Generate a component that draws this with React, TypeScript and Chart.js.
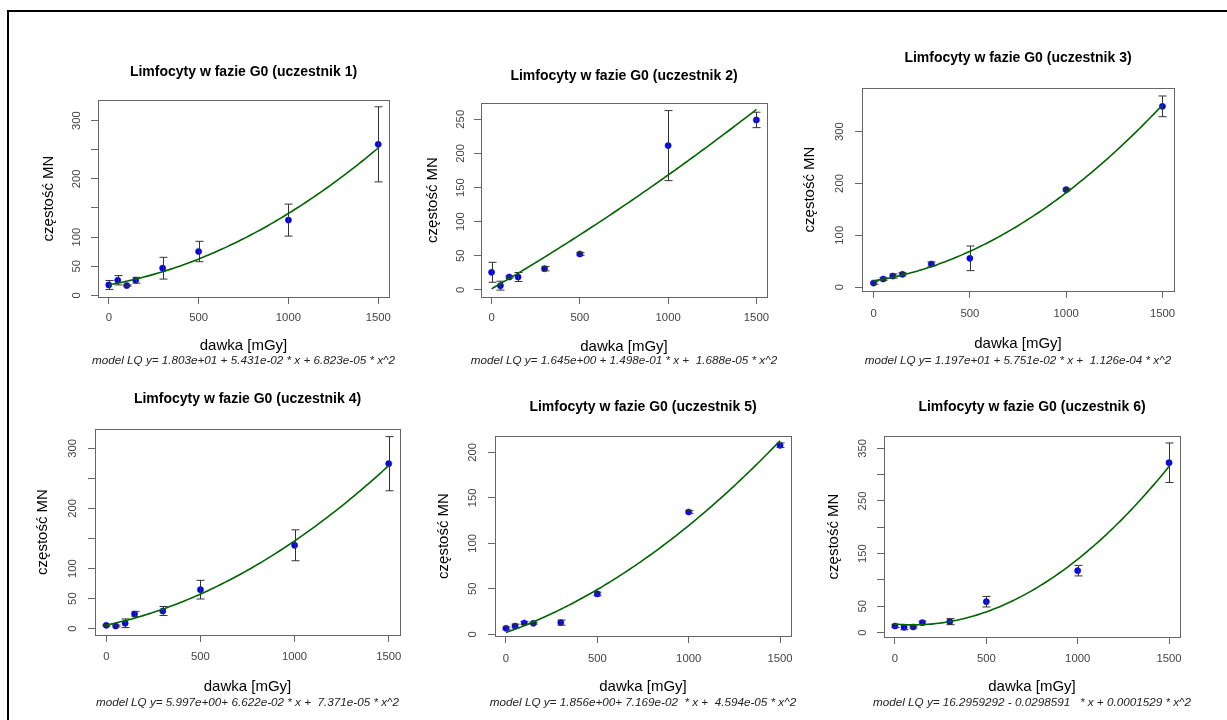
import React, { useEffect, useRef } from 'react';
import { Chart, registerables } from 'chart.js';

Chart.register(...registerables);

// ---------- data ----------
const doses = [0, 50, 100, 150, 300, 500, 1000, 1500];
const xTicks = [0, 500, 1000, 1500];

const titles = [
  'Limfocyty w fazie G0 (uczestnik 1)',
  'Limfocyty w fazie G0 (uczestnik 2)',
  'Limfocyty w fazie G0 (uczestnik 3)',
  'Limfocyty w fazie G0 (uczestnik 4)',
  'Limfocyty w fazie G0 (uczestnik 5)',
  'Limfocyty w fazie G0 (uczestnik 6)',
];

const subtitles = [
  'model LQ y= 1.803e+01 + 5.431e-02 * x + 6.823e-05 * x^2',
  'model LQ y= 1.645e+00 + 1.498e-01 * x +  1.688e-05 * x^2',
  'model LQ y= 1.197e+01 + 5.751e-02 * x +  1.126e-04 * x^2',
  'model LQ y= 5.997e+00+ 6.622e-02 * x +  7.371e-05 * x^2',
  'model LQ y= 1.856e+00+ 7.169e-02  * x +  4.594e-05 * x^2',
  'model LQ y= 16.2959292 - 0.0298591   * x + 0.0001529 * x^2',
];

const xAxisTitle = 'dawka [mGy]';
const yAxisTitle = 'częstość MN';

// mean MN frequency per dose
const mn1 = [17.7, 25.8, 16.7, 25.8, 46.5, 75.2, 129.1, 259.3];
const mn2 = [25.9, 6.3, 19.0, 19.0, 31.2, 52.7, 211.4, 249.0];
const mn3 = [7.7, 15.5, 21.2, 24.5, 44.4, 55.4, 188.0, 349.0];
const mn4 = [5.6, 4.5, 9.0, 24.4, 29.4, 64.9, 138.7, 274.4];
const mn5 = [6.6, 9.1, 12.4, 12.1, 12.8, 44.3, 134.4, 207.7];
const mn6 = [12.7, 10.2, 10.8, 19.0, 20.9, 58.8, 117.7, 322.6];

// error bar half-lengths
const sd1 = [7.7, 8.0, 1.0, 5.0, 18.7, 17.5, 27.5, 64.5];
const sd2 = [14.6, 6.5, 1.5, 6.6, 3.2, 2.0, 51.3, 11.3];
const sd3 = [2.5, 2.5, 4.0, 3.0, 4.0, 23.8, 2.5, 20.0];
const sd4 = [1.5, 1.5, 7.2, 4.4, 7.5, 15.5, 25.7, 45.0];
const sd5 = [1.5, 2.0, 1.5, 1.0, 2.8, 2.0, 1.5, 2.5];
const sd6 = [3.0, 4.5, 2.0, 3.0, 5.7, 10.0, 10.0, 37.5];

// fitted LQ model coefficients (c0, c1, c2) as printed under each panel
const fit1 = [18.03, 0.05431, 6.823e-5];
const fit2 = [1.645, 0.1498, 1.688e-5];
const fit3 = [11.97, 0.05751, 1.126e-4];
const fit4 = [5.997, 0.06622, 7.371e-5];
const fit5 = [1.856, 0.07169, 4.594e-5];
const fit6 = [16.2959292, -0.0298591, 0.0001529];

// y tick positions and which of them carry labels
const yTicks1 = [0, 50, 100, 150, 200, 250, 300];
const yLabels1 = [0, 50, 100, 200, 300];
const yTicks2 = [0, 50, 100, 150, 200, 250];
const yLabels2 = [0, 50, 100, 150, 200, 250];
const yTicks3 = [0, 100, 200, 300];
const yLabels3 = [0, 100, 200, 300];
const yTicks4 = [0, 50, 100, 150, 200, 250, 300];
const yLabels4 = [0, 50, 100, 200, 300];
const yTicks5 = [0, 50, 100, 150, 200];
const yLabels5 = [0, 50, 100, 150, 200];
const yTicks6 = [0, 50, 100, 150, 200, 250, 300, 350];
const yLabels6 = [0, 50, 150, 250, 350];

const means = [mn1, mn2, mn3, mn4, mn5, mn6];
const sds = [sd1, sd2, sd3, sd4, sd5, sd6];
const fits = [fit1, fit2, fit3, fit4, fit5, fit6];
const yTickSets = [yTicks1, yTicks2, yTicks3, yTicks4, yTicks5, yTicks6];
const yLabelSets = [yLabels1, yLabels2, yLabels3, yLabels4, yLabels5, yLabels6];

// ---------- layout (page pixels) ----------
type Geo = {
  L: number; R: number; T: number; B: number; ymin: number; ymax: number;
  titleY: number; xtY: number; xlabY: number; subY: number; ylabX: number; ytX: number;
};
const geos: Geo[] = [
  { L: 98, R: 389, T: 100, B: 297, ymin: -3, ymax: 335.5, titleY: 71.7, xtY: 317.7, xlabY: 346, subY: 360.7, ylabX: 49.3, ytX: 77.3 },
  { L: 481, R: 767, T: 103, B: 297, ymin: -10.3, ymax: 273.8, titleY: 76, xtY: 318.3, xlabY: 346.7, subY: 360.7, ylabX: 432.7, ytX: 460.7 },
  { L: 862, R: 1174, T: 88, B: 291, ymin: -7.7, ymax: 384.4, titleY: 58.3, xtY: 314.3, xlabY: 344.3, subY: 360.7, ylabX: 810, ytX: 840 },
  { L: 95, R: 400, T: 429, B: 635, ymin: -10.5, ymax: 332.1, titleY: 399.3, xtY: 657.3, xlabY: 686.7, subY: 702.7, ylabX: 43.3, ytX: 72.7 },
  { L: 495, R: 791, T: 436, B: 636, ymin: -1.9, ymax: 217.9, titleY: 406.7, xtY: 658.7, xlabY: 687.3, subY: 702.7, ylabX: 444.3, ytX: 473.3 },
  { L: 884, R: 1180, T: 436, B: 637, ymin: -8.2, ymax: 373.3, titleY: 406.7, xtY: 658.7, xlabY: 687.3, subY: 702.7, ylabX: 834, ytX: 862.7 },
];

const W = 1227;
const H = 720;
const FONT = '"Liberation Sans", Arial, Helvetica, sans-serif';
const TICK_SIZE = 11.3;
const AXIS_GRAY = '#666666';
const LABEL_GRAY = '#444444';
const Y_SCALE_W = 10;
const X_SCALE_H = 40;

function Panel({ idx }: { idx: number }) {
  const ref = useRef<HTMLCanvasElement | null>(null);

  useEffect(() => {
    const canvas = ref.current;
    if (!canvas) return;
    const g = geos[idx];
    const mn = means[idx];
    const sd = sds[idx];
    const fit = fits[idx];
    const yTicks = yTickSets[idx];
    const yLabels = yLabelSets[idx];

    const points = doses.map((d, i) => ({ x: d, y: mn[i] }));
    const curve: { x: number; y: number }[] = [];
    for (let k = 0; k <= 100; k++) {
      const x = (1500 * k) / 100;
      curve.push({ x, y: fit[0] + fit[1] * x + fit[2] * x * x });
    }

    const boxPlugin = {
      id: 'boxPlugin' + idx,
      afterDraw(chart: any) {
        const { ctx, chartArea: a } = chart;
        ctx.save();
        ctx.strokeStyle = AXIS_GRAY;
        ctx.lineWidth = 1;
        ctx.strokeRect(a.left + 0.5, a.top + 0.5, a.right - a.left, a.bottom - a.top);
        ctx.restore();
      },
    };

    const errPlugin = {
      id: 'errPlugin' + idx,
      afterDatasetDraw(chart: any, args: any) {
        if (args.index !== 1) return;
        const { ctx } = chart;
        const xs = chart.scales.x;
        const ys = chart.scales.y;
        ctx.save();
        ctx.strokeStyle = '#333333';
        ctx.lineWidth = 1;
        doses.forEach((d, i) => {
          const px = Math.round(xs.getPixelForValue(d)) + 0.5;
          const y1 = ys.getPixelForValue(mn[i] + sd[i]);
          const y2 = ys.getPixelForValue(mn[i] - sd[i]);
          ctx.beginPath();
          ctx.moveTo(px, y1);
          ctx.lineTo(px, y2);
          ctx.moveTo(px - 4, y1);
          ctx.lineTo(px + 4, y1);
          ctx.moveTo(px - 4, y2);
          ctx.lineTo(px + 4, y2);
          ctx.stroke();
        });
        ctx.restore();
      },
    };

    const textPlugin = {
      id: 'textPlugin' + idx,
      afterDraw(chart: any) {
        const { ctx, chartArea: a } = chart;
        const ys = chart.scales.y;
        const cx = (a.left + a.right) / 2;
        const cy = (a.top + a.bottom) / 2;
        ctx.save();
        ctx.textAlign = 'center';
        ctx.textBaseline = 'middle';
        // title
        ctx.fillStyle = '#000000';
        ctx.font = `bold 14px ${FONT}`;
        ctx.fillText(titles[idx], cx, g.titleY);
        // x axis title
        ctx.font = `15px ${FONT}`;
        ctx.fillText(xAxisTitle, cx, g.xlabY);
        // subtitle
        ctx.fillStyle = '#222222';
        ctx.font = `italic 11.7px ${FONT}`;
        ctx.fillText(subtitles[idx], cx, g.subY);
        // y axis title
        ctx.fillStyle = '#000000';
        ctx.font = `15px ${FONT}`;
        ctx.save();
        ctx.translate(g.ylabX, cy);
        ctx.rotate(-Math.PI / 2);
        ctx.fillText(yAxisTitle, 0, 0);
        ctx.restore();
        // y tick labels (parallel to the axis)
        ctx.fillStyle = LABEL_GRAY;
        ctx.font = `${TICK_SIZE}px ${FONT}`;
        yLabels.forEach((v) => {
          ctx.save();
          ctx.translate(g.ytX, ys.getPixelForValue(v));
          ctx.rotate(-Math.PI / 2);
          ctx.fillText(String(v), 0, 0);
          ctx.restore();
        });
        ctx.restore();
      },
    };

    const xtPad = g.xtY - g.B - 7 - (TICK_SIZE * 1.2) / 2;

    const chart = new Chart(canvas, {
      type: 'scatter',
      data: {
        datasets: [
          {
            data: curve,
            showLine: true,
            borderColor: '#006400',
            borderWidth: 1.6,
            pointRadius: 0,
            fill: false,
            tension: 0,
          },
          {
            data: points,
            showLine: false,
            pointRadius: 3.1,
            pointBackgroundColor: '#0000ff',
            pointBorderColor: '#0000ff',
            pointBorderWidth: 0.5,
          },
        ],
      } as any,
      options: {
        responsive: false,
        animation: false,
        events: [],
        layout: {
          padding: {
            left: g.L - Y_SCALE_W,
            right: W - g.R,
            top: g.T,
            bottom: H - g.B - X_SCALE_H,
          },
        },
        plugins: {
          legend: { display: false },
          title: { display: false },
          tooltip: { enabled: false },
        },
        scales: {
          x: {
            type: 'linear',
            position: 'bottom',
            min: -60,
            max: 1560,
            afterBuildTicks: (s: any) => {
              s.ticks = xTicks.map((v) => ({ value: v }));
            },
            afterFit: (s: any) => {
              s.height = X_SCALE_H;
            },
            grid: { drawOnChartArea: false, drawTicks: true, tickLength: 7, color: AXIS_GRAY, lineWidth: 1 },
            border: { display: false },
            ticks: {
              display: true,
              autoSkip: false,
              maxRotation: 0,
              minRotation: 0,
              padding: xtPad,
              color: LABEL_GRAY,
              font: { family: FONT, size: TICK_SIZE },
              callback: (v: any) => String(v),
            },
          },
          y: {
            type: 'linear',
            position: 'left',
            min: g.ymin,
            max: g.ymax,
            afterBuildTicks: (s: any) => {
              s.ticks = yTicks.map((v) => ({ value: v }));
            },
            afterFit: (s: any) => {
              s.width = Y_SCALE_W;
            },
            grid: { drawOnChartArea: false, drawTicks: true, tickLength: 7, color: AXIS_GRAY, lineWidth: 1 },
            border: { display: false },
            ticks: { display: false },
          },
        },
      } as any,
      plugins: [boxPlugin, errPlugin, textPlugin],
    });

    return () => {
      chart.destroy();
    };
  }, [idx]);

  return (
    <canvas
      ref={ref}
      width={W}
      height={H}
      style={{ position: 'absolute', left: 0, top: 0, width: W, height: H }}
    />
  );
}

export default function App() {
  return (
    <div style={{ position: 'relative', width: W, height: H, overflow: 'hidden', background: '#ffffff' }}>
      <style>{'html,body{margin:0;padding:0;overflow:hidden;background:#fff;}'}</style>
      <div
        style={{
          position: 'absolute',
          left: 7,
          top: 10,
          width: W + 20,
          height: H + 20,
          borderTop: '2px solid #000',
          borderLeft: '2px solid #000',
        }}
      />
      {geos.map((_, i) => (
        <Panel key={i} idx={i} />
      ))}
    </div>
  );
}
